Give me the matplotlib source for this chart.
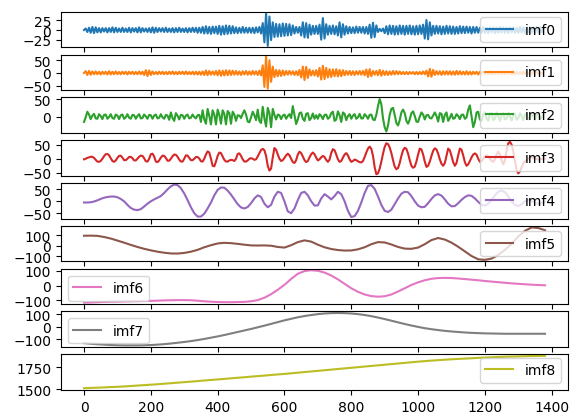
import numpy as np
import matplotlib
matplotlib.use("Agg")
from matplotlib import pyplot as plt

# imf0 / imf1 / imf2 / imf3: values read every 5 samples
imf0 = [
    0, 4, -5, 6, -7, 8, -8, 7, -6, 5, -6, 5, -4, 5, -6, 5, -5, 7, -6, 6,
    -5, 4, -5, 6, -5, 4, -5, 6, -6, 5, -4, 5, -6, 7, -6, 5, -4, 4, -5, 5,
    -6, 7, -7, 6, -5, 5, -4, 5, -5, 6, -5, 4, -5, 5, -6, 5, -5, 6, -5, 4,
    -5, 5, -6, 5, -5, 6, -5, 6, -7, 6, -7, 8, -9, 10, -9, 8, -10, 9, -8, 9,
    -10, 11, -12, 10, -11, 12, -10, 11, -9, 10, -8, 7, -8, 6, -7, 8, -7, 6, -7, 6,
    -7, 6, -8, 7, -6, 8, -9, 18, -32, 43, -41, 35, -26, 20, -18, 16, -17, 15, -16, 17,
    -15, 16, -14, 15, -13, 12, -9, 8, -7, 8, -14, 20, -19, 18, -20, 14, -12, 11, -10, 11,
    -10, 14, -25, 31, -22, 15, -12, 11, -10, 12, -11, 10, -14, 20, -19, 15, -12, 10, -9, 8,
    -8, 7, -8, 9, -7, 8, -7, 8, -9, 8, -10, 14, -20, 19, -18, 12, -5, 3, -3, 4,
    -8, 10, -11, 12, -10, 11, -12, 10, -11, 12, -10, 11, -12, 11, -10, 12, -11, 10, -12, 11,
    -11, 12, -10, 14, -22, 26, -24, 20, -14, 11, -10, 11, -9, 10, -11, 9, -10, 11, -9, 10,
    -10, 9, -10, 8, -9, 10, -8, 9, -8, 9, -7, 8, -9, 8, -7, 8, -7, 6, -7, 8,
    -7, 6, -8, 7, -6, 7, -8, 6, -7, 8, -6, 7, -7, 6, -8, 7, -6, 7, -7, 6,
    -7, 8, -6, 7, -8, 7, -6, 8, -7, 6, -7, 8, -6, 7, -5, 4,
]
imf1 = [
    0, 7, -8, 8, -7, 6, -5, 6, -5, 5, -6, 5, -4, 5, -6, 7, -6, 5, -5, 6,
    -5, 4, -5, 5, -4, 5, -6, 5, -4, 5, -5, 4, -5, 6, -5, 5, -8, 11, -12, 10,
    -8, 6, -5, 4, -5, 5, -4, 5, -5, 4, -5, 5, -4, 6, -5, 4, -5, 5, -4, 5,
    -5, 6, -5, 4, -5, 5, -6, 5, -6, 5, -7, 6, -8, 10, -9, 8, -7, 6, -7, 8,
    -9, 10, -11, 9, -10, 11, -9, 10, -8, 9, -7, 8, -7, 6, -8, 7, -6, 8, -7, 6,
    -7, 8, -6, 7, -8, 9, -10, 30, -55, 66, -62, 50, -35, 25, -16, 12, -13, 11, -12, 10,
    -9, 8, -7, 8, -6, 7, -8, 7, -9, 12, -18, 25, -28, 24, -20, 14, -10, 9, -10, 11,
    -14, 20, -26, 28, -24, 20, -18, 15, -16, 14, -13, 15, -14, 12, -13, 11, -9, 8, -7, 8,
    -8, 7, -8, 7, -6, 8, -7, 8, -9, 14, -16, 15, -13, 8, -7, 8, -9, 12, -11, 9,
    -8, 7, -8, 6, -7, 8, -6, 7, -5, 6, -5, 4, -5, 4, -5, 4, -3, 4, -5, 4,
    -5, 4, -5, 6, -5, 9, -14, 16, -15, 12, -8, 7, -6, 7, -8, 7, -6, 7, -6, 7,
    -7, 6, -7, 8, -6, 7, -6, 5, -6, 7, -6, 5, -6, 5, -4, 5, -6, 5, -4, 5,
    -5, 4, -5, 6, -5, 4, -5, 5, -4, 5, -5, 4, -5, 5, -4, 5, -5, 4, -5, 4,
    -5, 4, -5, 5, -4, 5, -5, 4, -5, 5, -4, 5, -4, 5, -3, 2,
]
imf2 = [
    -15, -2, 14, 6, -7, 3, 8, -5, -6, 7, 2, -7, 5, 6, -6, -1, 7, -4, -6, 6,
    3, -7, 4, 6, -6, -2, 7, -3, -6, 5, 4, -6, 2, 7, -5, -4, 6, 1, -6, 5,
    4, -6, 3, 6, -5, -3, 7, -2, -6, 5, 3, -9, 12, -4, -12, 10, 3, -8, 5, 4,
    -6, 3, 6, -5, -3, 6, -1, -5, 4, 5, -15, 18, -8, -20, 22, 2, -22, 18, 6, -22,
    20, 5, -20, 18, 8, -22, 16, 10, -20, 14, 6, -12, 4, 3, -4, 8, 18, 6, -14, -16,
    -2, 14, 4, -10, 20, -12, -18, 28, -5, -28, 25, 10, -30, 22, 5, -8, 6, 4, -7, 3,
    6, -6, 2, 7, -4, 30, 5, -21, -8, 10, 12, -6, -12, 8, 10, -10, -4, 9, -6, 4,
    -6, 7, 2, -7, 5, 6, -6, -2, 10, 14, -12, -8, 15, 4, -15, 12, 8, -10, 2, 7,
    -6, 3, 7, -6, -2, 8, -5, -5, 7, 2, -6, 5, 6, -8, -10, 5, 30, 50, 35, -5,
    -30, -42, -25, 5, 22, 25, 5, -18, -25, -10, 12, 20, 10, -12, -20, -8, 10, 15, 2, -14,
    -15, 0, 12, 6, -8, 4, 5, -4, -5, 3, 12, 2, -14, 10, 8, -15, 5, 12, -12, -4,
    8, -6, -4, 7, 2, -7, 5, 6, -6, -2, 20, 32, 0, -30, -15, 12, 14, -8, -12, 6,
    12, -5, -12, 8, 10, -10, -6, 12, 2, -12, 6, 10, -8, -6, 11, 0, -11, 7, 8, -9,
    -4, 10, 2, -10, 6, 8, -8, -4, 9, 0, -9, 6, 7, -7, -3, 4,
]
imf3 = [
    -2, 0, 3, 5, 7, 7, 3, -4, -10, -11, -8, 0, 9, 16, 17, 12, 2, -8, -11, -6,
    3, 10, 11, 4, -5, -5, 0, 6, 7, 2, -6, -6, 0, 7, 11, 10, 2, -9, -10, 0,
    16, 18, 8, -10, -12, -6, 4, 11, 10, 3, -7, -7, 0, 9, 15, 14, 7, -3, -10, -10,
    0, 12, 11, 3, -5, -5, 0, 6, 6, 1, -9, -10, 0, 15, 26, 22, 0, -25, -27, -10,
    10, 22, 20, 8, -4, -10, -10, -6, -4, -5, -8, 0, 17, 19, 10, -2, -10, -10, -6, 0,
    2, 0, -4, -2, 8, 20, 31, 35, 30, 10, -25, -42, -35, 5, 38, 32, 15, 0, -8, -5,
    3, 12, 18, 12, 0, -12, -15, -5, 15, 25, 20, 8, -5, -12, -8, 5, 16, 22, 16, 4,
    -6, -2, 5, 10, 6, -4, -11, -3, 20, 34, 30, 15, -2, -11, -8, 4, 15, 20, 12, -2,
    -11, -8, -3, -5, -9, -12, -13, -8, 6, 22, 36, 43, 35, 10, -30, -55, -52, -35, -10, 18,
    42, 55, 52, 40, 20, -5, -28, -37, -33, -15, 10, 30, 39, 35, 18, -5, -25, -32, -28, -10,
    15, 36, 33, 15, -10, -29, -25, -10, 10, 28, 37, 33, 18, -2, -18, -25, -15, 10, 36, 30,
    10, -12, -25, -15, 12, 36, 32, 12, -12, -25, -20, -8, 5, 15, 19, 14, 0, -11, -8, 0,
    8, 12, 8, 0, -8, -11, -2, 15, 25, 15, -5, -20, -5, 30, 55, 60, 50, 25, -10, -40,
    -52, -45, -30, -15, -10, -5, 0, 4, 5, 3, 0, -2, -3, -2, -1, 0, 0,
]

# imf4: every 10 samples
imf4 = [
    -5, -5, -4, -1, 4, 10, 15, 18, 20, 20, 17, 10, 0, -15, -28, -35, -37, -33, -22, -10,
    0, 8, 15, 22, 35, 50, 63, 70, 68, 55, 33, 5, -25, -50, -64, -64, -52, -30, -5, 25,
    48, 58, 57, 45, 28, 8, -12, -26, -30, -24, -8, 12, 25, 18, -10, -25, -15, 20, 40, 35,
    0, -42, -50, -30, 5, 35, 40, 25, 0, -18, -17, 12, 30, 20, 8, 22, 40, 30, 0, -40,
    -66, -62, -40, -5, 35, 65, 68, 52, 20, -15, -40, -45, -35, -12, 12, 32, 40, 38, 22, 0,
    -18, -25, -23, -8, 10, 25, 30, 24, 8, -10, -21, -20, -8, 6, 18, 25, 23, 12, -2, -15,
    -18, -10, 5, 25, 40, 45, 38, 20, 0, -15, -20, -12, 0, 5, 0, -8, -10, -6, -2,
]

# imf5 .. imf8: every 20 samples
imf5 = [
    97, 98, 96, 85, 70, 50, 30, 8, -12, -30, -45, -58, -68, -75, -76, -70, -58, -40, -15, 5,
    22, 28, 25, 18, 10, 3, 2, 3, 0, -12, -18, 5, 35, 52, 40, 10, -15, -32, -42, -47,
    -46, -35, -15, 15, 35, 32, 12, -12, -28, -30, -18, 15, 55, 75, 60, 30, -10, -55, -100, -132,
    -137, -125, -90, -40, 20, 90, 145, 178, 172, 150,
]
imf6 = [
    -115, -114, -112, -110, -109, -108, -107, -106, -105, -104, -103, -102, -100, -99, -98,
    -98, -99, -102, -106, -109, -111, -112, -112, -111, -110, -106, -98, -82, -58, -28,
    5, 45, 80, 98, 104, 100, 88, 68, 42, 12, -18, -42, -60, -71, -75, -72, -60, -40, -18, 4,
    22, 36, 46, 51, 52, 51, 48, 44, 40, 36, 31, 27, 23, 19, 15, 12, 9, 6, 4, 2,
]
imf7 = [
    -130, -135, -139, -142, -145, -147, -148, -148, -148, -147, -145, -142, -138, -133, -127,
    -121, -114, -106, -97, -87, -77, -66, -54, -42, -30, -18, -5, 8, 22, 36,
    50, 62, 74, 84, 92, 99, 104, 107, 108, 107, 104, 99, 92, 83, 72, 60, 47, 34, 21, 9,
    -2, -12, -20, -27, -33, -38, -42, -46, -49, -51, -53, -54, -55, -56, -56, -56, -56, -56, -56, -56,
]
imf8 = [
    1512, 1515, 1518, 1521, 1525, 1528, 1532, 1537, 1542, 1547, 1552, 1557, 1563, 1569, 1575,
    1581, 1587, 1593, 1600, 1606, 1612, 1618, 1625, 1631, 1637, 1644, 1650, 1656, 1663, 1669,
    1675, 1682, 1689, 1696, 1703, 1710, 1717, 1724, 1731, 1738, 1745, 1752, 1759, 1766, 1773,
    1780, 1787, 1794, 1801, 1808, 1815, 1821, 1827, 1832, 1837, 1842, 1846, 1850, 1854, 1858,
    1862, 1865, 1868, 1871, 1873, 1875, 1877, 1879, 1880, 1882,
]

names = ["imf%d" % i for i in range(9)]
data = [imf0, imf1, imf2, imf3, imf4, imf5, imf6, imf7, imf8]
steps = [5, 5, 5, 5, 10, 20, 20, 20, 20]
yticks = [[-25, 0, 25], [-50, 0, 50], [0, 50], [-50, 0, 50], [-50, 0, 50],
          [-100, 0, 100], [-100, 0, 100], [-100, 0, 100], [1500, 1750]]
legend_loc = ["center right"] * 6 + ["upper left", "upper left", "lower right"]

fig, axes = plt.subplots(9, 1, sharex=True, figsize=(5.75, 4.14), dpi=100)
fig.subplots_adjust(left=0.106, right=0.988, top=0.969, bottom=0.056, hspace=0.2)

for i, ax in enumerate(axes):
    x = np.arange(len(data[i])) * steps[i]
    ax.plot(x, data[i], color="C%d" % i, lw=1.5, label=names[i])
    ax.set_yticks(yticks[i])
    ax.legend(loc=legend_loc[i])

axes[-1].set_xticks(range(0, 1401, 200))

fig.savefig("out.png")
